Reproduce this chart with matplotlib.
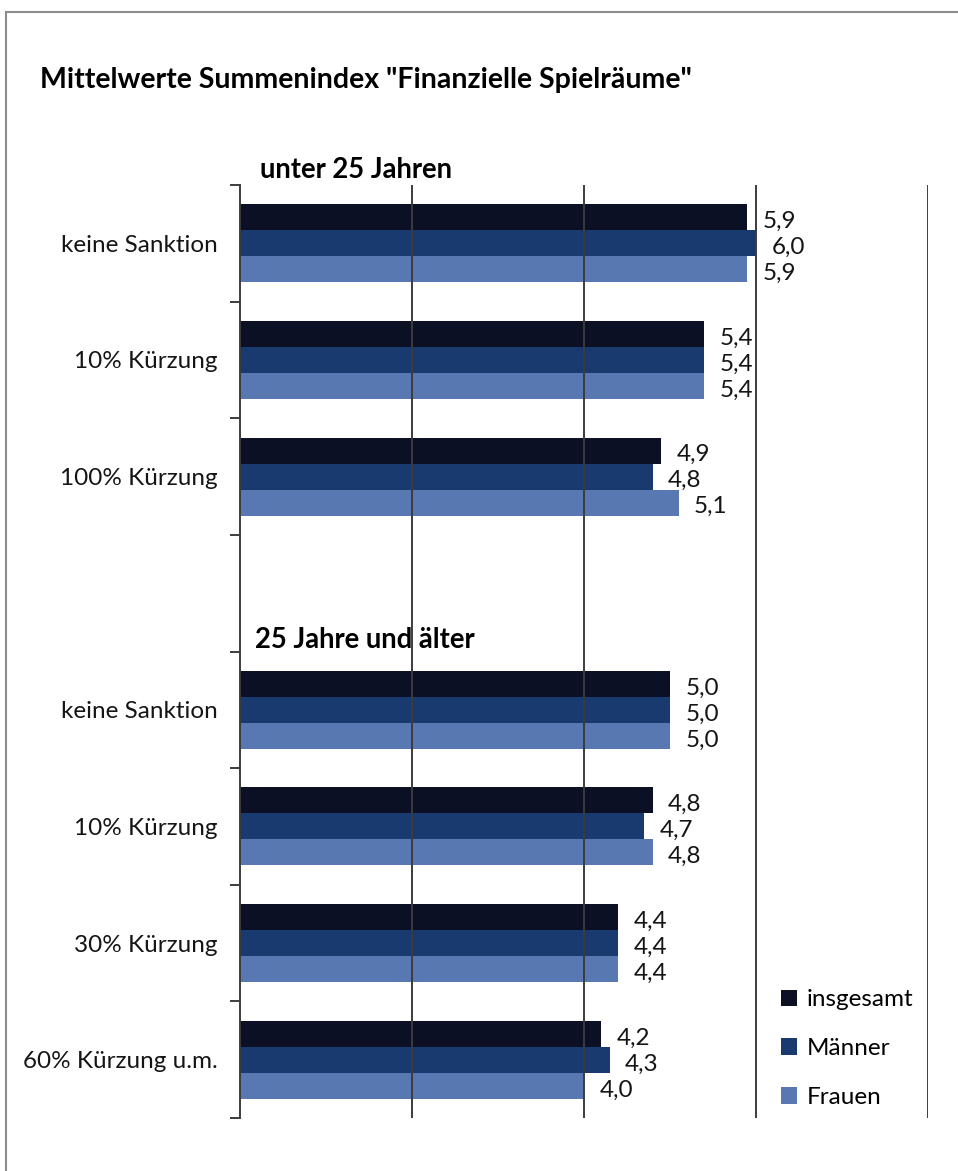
import matplotlib.pyplot as plt
from matplotlib.patches import Rectangle
import numpy as np

plt.rcParams['font.family'] = ['Lato', 'DejaVu Sans']

# row labels, top to bottom (empty slot separates the two age groups)
categories = ['keine Sanktion', '10% Kürzung', '100% Kürzung', '',
              'keine Sanktion', '10% Kürzung', '30% Kürzung', '60% Kürzung u.m.']
insgesamt = [5.9, 5.4, 4.9, None, 5.0, 4.8, 4.4, 4.2]
maenner = [6.0, 5.4, 4.8, None, 5.0, 4.7, 4.4, 4.3]
frauen = [5.9, 5.4, 5.1, None, 5.0, 4.8, 4.4, 4.0]
series_names = ['insgesamt', 'Männer', 'Frauen']
colors = ['#0b1024', '#183a6e', '#5878b2']

fig = plt.figure(figsize=(9.58, 11.71), dpi=100)

# light frame around the whole chart
fig.patches.append(Rectangle((6 / 958, -0.05), 1.1, (1171 - 12) / 1171 + 0.05,
                             transform=fig.transFigure, fill=False,
                             edgecolor='#8c8c8c', linewidth=1.5))

ax = fig.add_axes([240 / 958, 1 - 1118 / 1171, (928 - 240) / 958, (1118 - 185) / 1171])

h = 0.223
y = np.arange(len(categories))
for k, (vals, name, col) in enumerate(zip([insgesamt, maenner, frauen], series_names, colors)):
    ys = [yy + (k - 1) * h for yy, v in zip(y, vals) if v is not None]
    vs = [v for v in vals if v is not None]
    ax.barh(ys, vs, height=h, color=col, label=name, zorder=2)
    for yy, v in zip(ys, vs):
        ax.annotate(f'{v:.1f}'.replace('.', ','), (v, yy), xytext=(11, -3),
                    textcoords='offset points', va='center', ha='left',
                    fontsize=17.5, color='#151515')

ax.set_xlim(0, 8)
ax.set_ylim(len(categories) - 0.5, -0.5)

# vertical gridlines drawn over the bars
for gx in [2, 4, 6, 8]:
    ax.axvline(gx, color='#3c3c3c', linewidth=1.4, zorder=3)

ax.set_xticks([])
ax.set_yticks(np.arange(-0.5, len(categories)), minor=False)
ax.set_yticklabels([])
ax.set_yticks(y, minor=True)
ax.set_yticklabels(categories, minor=True, fontsize=17.5, color='#151515')
ax.tick_params(axis='y', which='major', length=7, width=1.4, color='#3c3c3c', direction='out')
ax.tick_params(axis='y', which='minor', length=0, pad=16)

for side in ['top', 'right', 'bottom']:
    ax.spines[side].set_visible(False)
ax.spines['left'].set_color('#3c3c3c')
ax.spines['left'].set_linewidth(1.4)

fig.text(40 / 958, 1 - 80 / 1171, 'Mittelwerte Summenindex "Finanzielle Spielräume"',
         fontsize=20.5, fontweight='bold', va='center', ha='left')
fig.text(260 / 958, 1 - 170 / 1171, 'unter 25 Jahren',
         fontsize=19.8, fontweight='bold', va='center', ha='left')
fig.text(255 / 958, 1 - 640 / 1171, '25 Jahre und älter',
         fontsize=19.8, fontweight='bold', va='center', ha='left')

ax.legend(loc='upper left', bbox_to_anchor=(769 / 958, 1 - 977 / 1171),
          bbox_transform=fig.transFigure, frameon=False, fontsize=17.5,
          handlelength=0.65, handleheight=0.65, handletextpad=0.4,
          labelspacing=1.15, borderpad=0)

fig.savefig('out.png', dpi=100)
